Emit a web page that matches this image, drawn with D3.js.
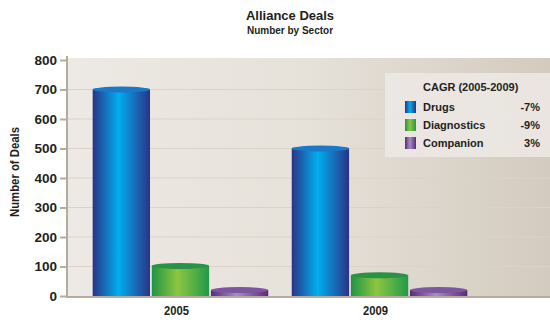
<!DOCTYPE html>
<html>
<head>
<meta charset="utf-8">
<script src="https://cdn.jsdelivr.net/npm/d3@7"></script>
<style>
  body { margin: 0; background: #fff; }
  svg text { font-family: "Liberation Sans", Arial, sans-serif; font-weight: bold; fill: #231f20; }
</style>
</head>
<body>
<div id="chart"></div>
<script>
// chart data
var years = ["2005", "2009"];
var sectors = ["Drugs", "Diagnostics", "Companion"];
var drugs = [700, 500];
var diagnostics = [102, 70];
var companion = [20, 20];
var cagr = ["-7%", "-9%", "3%"];
var yTicks = [0, 100, 200, 300, 400, 500, 600, 700, 800];

var width = 550, height = 320;
var margin = { top: 58, right: 0, bottom: 24, left: 67 };
var plotBottom = 296;

var svg = d3.select("#chart").append("svg")
    .attr("width", width)
    .attr("height", height);

var defs = svg.append("defs");

// background gradient of plot area
var bg = defs.append("linearGradient").attr("id", "bgGrad")
    .attr("x1", "0%").attr("x2", "100%").attr("y1", "0%").attr("y2", "0%");
bg.append("stop").attr("offset", "0%").attr("stop-color", "#ede9e4");
bg.append("stop").attr("offset", "50%").attr("stop-color", "#e6e1d9");
bg.append("stop").attr("offset", "100%").attr("stop-color", "#d3cbbf");

// cylinder gradients
var barColors = {
    Drugs: ["#2b3387", "#00aeef", "#2b3387", "#1a78c8"],
    Diagnostics: ["#1e9447", "#8dc63f", "#219a4a", "#2a9244"],
    Companion: ["#5b2a78", "#a68dc6", "#5b2a78", "#7d55a0"]
};
sectors.forEach(function(s) {
    var c = barColors[s];
    var g = defs.append("linearGradient").attr("id", "grad" + s)
        .attr("x1", "0%").attr("x2", "100%");
    g.append("stop").attr("offset", "0%").attr("stop-color", c[0]);
    g.append("stop").attr("offset", "45%").attr("stop-color", c[1]);
    g.append("stop").attr("offset", "100%").attr("stop-color", c[2]);
});

var y = d3.scaleLinear()
    .domain([0, 800])
    .range([plotBottom, 60]);

var x0 = d3.scaleBand()
    .domain(years)
    .range([margin.left, 493])
    .paddingInner(0.1)
    .paddingOuter(0.12);

var x1 = d3.scaleBand()
    .domain(sectors)
    .range([0, x0.bandwidth()])
    .padding(0.03);

// plot background
svg.append("rect")
    .attr("x", margin.left)
    .attr("y", margin.top)
    .attr("width", width - margin.left)
    .attr("height", plotBottom - margin.top)
    .attr("fill", "url(#bgGrad)");

// gridlines
svg.append("g").selectAll("line")
    .data(yTicks.filter(function(d) { return d > 0 && d < 800; }))
    .enter().append("line")
    .attr("x1", margin.left)
    .attr("x2", width)
    .attr("y1", function(d) { return y(d); })
    .attr("y2", function(d) { return y(d); })
    .attr("stroke", "#dbd3c7")
    .attr("stroke-width", 1.2);

// y axis
var yAxis = svg.append("g")
    .attr("transform", "translate(" + margin.left + ",0)")
    .call(d3.axisLeft(y).tickValues(yTicks).tickSize(7).tickPadding(3));
yAxis.select(".domain").remove();
yAxis.selectAll(".tick line").attr("stroke", "#b6ac9e").attr("stroke-width", 2);
yAxis.selectAll(".tick text")
    .style("font-size", "13.5px")
    .attr("fill", "#231f20");

svg.append("line")
    .attr("x1", margin.left).attr("x2", margin.left)
    .attr("y1", 56).attr("y2", plotBottom + 2)
    .attr("stroke", "#b6ac9e").attr("stroke-width", 2);

// series table built from arrays
var series = { Drugs: drugs, Diagnostics: diagnostics, Companion: companion };
var barData = [];
years.forEach(function(yr, i) {
    sectors.forEach(function(s) {
        barData.push({ year: yr, sector: s, value: series[s][i] });
    });
});

var bars = svg.append("g").selectAll("g")
    .data(barData)
    .enter().append("g")
    .attr("transform", function(d) { return "translate(" + (x0(d.year) + x1(d.sector)) + ",0)"; });

bars.append("rect")
    .attr("x", 0)
    .attr("y", function(d) { return y(d.value); })
    .attr("width", x1.bandwidth())
    .attr("height", function(d) { return plotBottom - y(d.value); })
    .attr("fill", function(d) { return "url(#grad" + d.sector + ")"; });

// cylinder caps
bars.append("ellipse")
    .attr("cx", x1.bandwidth() / 2)
    .attr("cy", function(d) { return y(d.value); })
    .attr("rx", x1.bandwidth() / 2)
    .attr("ry", 3)
    .attr("fill", function(d) { return barColors[d.sector][3]; });

// bottom axis line
svg.append("line")
    .attr("x1", margin.left - 1).attr("x2", width)
    .attr("y1", plotBottom + 1).attr("y2", plotBottom + 1)
    .attr("stroke", "#b6ac9e").attr("stroke-width", 2);

// x labels
svg.append("g").selectAll("text")
    .data(years)
    .enter().append("text")
    .attr("x", function(d) { return x0(d) + x0.bandwidth() / 2 - 4; })
    .attr("y", 315)
    .attr("text-anchor", "middle")
    .attr("textLength", 25)
    .attr("lengthAdjust", "spacingAndGlyphs")
    .style("font-size", "13px")
    .text(function(d) { return d; });

// y axis title
svg.append("text")
    .attr("transform", "translate(19,172) rotate(-90)")
    .attr("text-anchor", "middle")
    .attr("textLength", 90)
    .attr("lengthAdjust", "spacingAndGlyphs")
    .style("font-size", "13px")
    .text("Number of Deals");

// titles
svg.append("text")
    .attr("x", 290).attr("y", 20)
    .attr("text-anchor", "middle")
    .style("font-size", "13px")
    .text("Alliance Deals");
svg.append("text")
    .attr("x", 290).attr("y", 34)
    .attr("text-anchor", "middle")
    .style("font-size", "10px")
    .text("Number by Sector");

// legend
var legend = svg.append("g").attr("transform", "translate(385,73)");
legend.append("rect")
    .attr("width", 170)
    .attr("height", 84)
    .attr("fill", "#ece8e3")
    .attr("opacity", 0.9);
legend.append("text")
    .attr("x", 38).attr("y", 18)
    .style("font-size", "11px")
    .text("CAGR (2005-2009)");

var items = legend.selectAll(".item")
    .data(sectors)
    .enter().append("g")
    .attr("class", "item")
    .attr("transform", function(d, i) { return "translate(0," + (28 + i * 18) + ")"; });
items.append("rect")
    .attr("x", 20).attr("width", 11).attr("height", 12)
    .attr("fill", function(d) { return "url(#grad" + d + ")"; });
items.append("text")
    .attr("x", 38).attr("y", 10)
    .style("font-size", "11px")
    .text(function(d) { return d; });
items.append("text")
    .attr("x", 155).attr("y", 10)
    .attr("text-anchor", "end")
    .style("font-size", "11px")
    .text(function(d, i) { return cagr[i]; });
</script>
</body>
</html>
